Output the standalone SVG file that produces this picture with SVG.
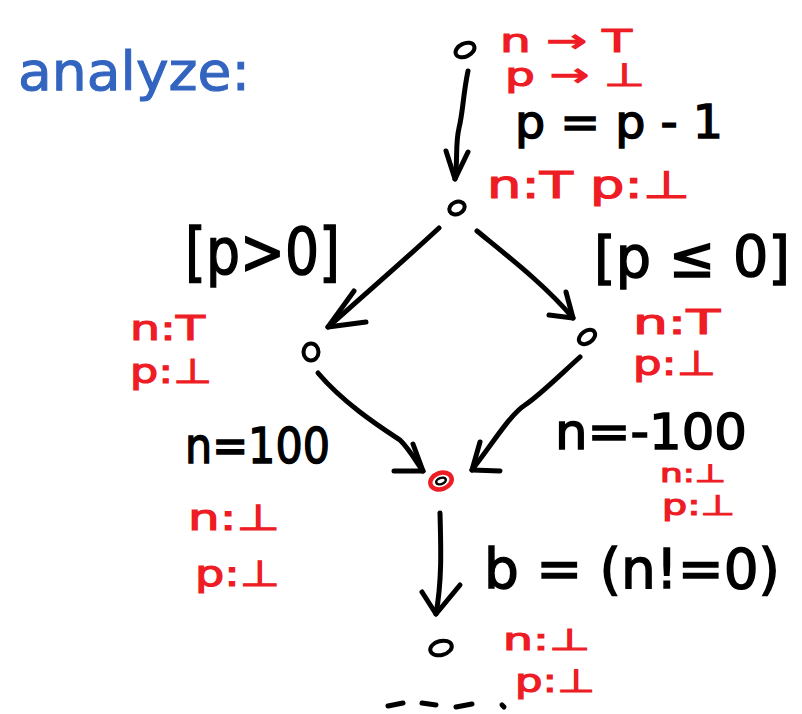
<svg xmlns="http://www.w3.org/2000/svg" width="802" height="714" viewBox="0 0 802 714">
<style>
.t{font-family:"DejaVu Sans","Liberation Sans",sans-serif;}
.k{fill:#000;stroke:#000;stroke-width:1.5;}
.r{fill:#ee1c24;stroke:#ee1c24;stroke-width:1.2;}
.b{fill:#3264c0;stroke:#3264c0;stroke-width:1;}
.node{fill:none;stroke:#000;stroke-width:4;}
.edge{fill:none;stroke:#000;stroke-width:5;stroke-linecap:round;stroke-linejoin:round;}
</style>
<rect width="802" height="714" fill="#fff"/>
<text class="t b" x="18" y="90" font-size="54" textLength="232" lengthAdjust="spacingAndGlyphs">analyze:</text>

<g id="n_top">
<ellipse class="node" cx="465" cy="50" rx="10" ry="6.5" transform="rotate(-25 465 50)"/>
<text class="t r" x="500" y="52" font-size="32" textLength="132" lengthAdjust="spacingAndGlyphs">n → T</text>
<text class="t r" x="505" y="86" font-size="32" textLength="140" lengthAdjust="spacingAndGlyphs">p → ⊥</text>
</g>
<text class="t k" x="515" y="138" font-size="46" textLength="208" lengthAdjust="spacingAndGlyphs">p = p - 1</text>

<g id="n_mid">
<ellipse class="node" cx="457" cy="208" rx="8" ry="6" transform="rotate(-25 457 208)"/>
<text class="t r" x="487" y="198" font-size="38" textLength="203" lengthAdjust="spacingAndGlyphs">n:T  p:⊥</text>
</g>
<text class="t k" x="185" y="274" font-size="64" textLength="155" lengthAdjust="spacingAndGlyphs">[p&gt;0]</text>
<text class="t k" x="594" y="277" font-size="57" textLength="196" lengthAdjust="spacingAndGlyphs">[p ≤ 0]</text>

<g id="n_left">
<ellipse class="node" cx="311" cy="352" rx="7.5" ry="8.5"/>
<text class="t r" x="130" y="340" font-size="34" textLength="75" lengthAdjust="spacingAndGlyphs">n:T</text>
<text class="t r" x="130" y="383" font-size="34" textLength="82" lengthAdjust="spacingAndGlyphs">p:⊥</text>
</g>

<g id="n_right">
<ellipse class="node" cx="587" cy="337" rx="9" ry="6" transform="rotate(-35 587 337)"/>
<text class="t r" x="633" y="334" font-size="34" textLength="87" lengthAdjust="spacingAndGlyphs">n:T</text>
<text class="t r" x="633" y="375" font-size="34" textLength="83" lengthAdjust="spacingAndGlyphs">p:⊥</text>
</g>

<text class="t k" x="185" y="463" font-size="50" textLength="145" lengthAdjust="spacingAndGlyphs">n=100</text>
<text class="t r" x="188" y="530" font-size="36" textLength="92" lengthAdjust="spacingAndGlyphs">n:⊥</text>
<text class="t r" x="195" y="586" font-size="36" textLength="85" lengthAdjust="spacingAndGlyphs">p:⊥</text>
<text class="t k" x="555" y="449" font-size="50" textLength="192" lengthAdjust="spacingAndGlyphs">n=-100</text>

<g id="n_merge">
<ellipse cx="441" cy="481" rx="11" ry="8" fill="none" stroke="#ee1c24" stroke-width="4.5" transform="rotate(-20 441 481)"/>
<ellipse cx="441" cy="481" rx="5" ry="3" fill="none" stroke="#000" stroke-width="2.5" transform="rotate(-20 441 481)"/>
<text class="t r" x="660" y="482" font-size="25" textLength="66" lengthAdjust="spacingAndGlyphs">n:⊥</text>
<text class="t r" x="662" y="515" font-size="28" textLength="73" lengthAdjust="spacingAndGlyphs">p:⊥</text>
</g>

<text class="t k" x="484" y="588" font-size="56" textLength="296" lengthAdjust="spacingAndGlyphs">b = (n!=0)</text>

<g id="n_bottom">
<ellipse class="node" cx="441" cy="648" rx="11" ry="7" transform="rotate(-15 441 648)"/>
<text class="t r" x="503" y="650" font-size="30" textLength="87" lengthAdjust="spacingAndGlyphs">n:⊥</text>
<text class="t r" x="515" y="692" font-size="32" textLength="80" lengthAdjust="spacingAndGlyphs">p:⊥</text>
</g>

<g id="connectors">
<path class="edge" d="M468 71 C463 95 463 112 459 128 C455 145 458 160 455 179"/>
<path class="edge" d="M446 151 L455 179 L468 152"/>
<path class="edge" d="M439 228 C410 255 370 290 328 327"/>
<path class="edge" d="M354 291 L328 327 L366 322"/>
<path class="edge" d="M477 231 C510 258 545 285 573 318"/>
<path class="edge" d="M566 292 L573 318 L549 315"/>
<path class="edge" d="M318 373 C345 405 385 430 400 440 C410 450 415 460 423 471"/>
<path class="edge" d="M413 444 L423 471 L394 471"/>
<path class="edge" d="M580 357 C560 375 540 395 525 405 C510 415 495 440 472 470"/>
<path class="edge" d="M480 442 L472 470 L500 471"/>
<path class="edge" d="M440 513 C441 550 442 580 436 614"/>
<path class="edge" d="M422 592 L436 614 L460 585"/>
<path class="edge" d="M388 706 L403 703"/>
<path class="edge" d="M422 703 L436 705"/>
<path class="edge" d="M456 707 L472 704"/>
<path class="edge" d="M502 705 L504 707"/>
</g>
</svg>
